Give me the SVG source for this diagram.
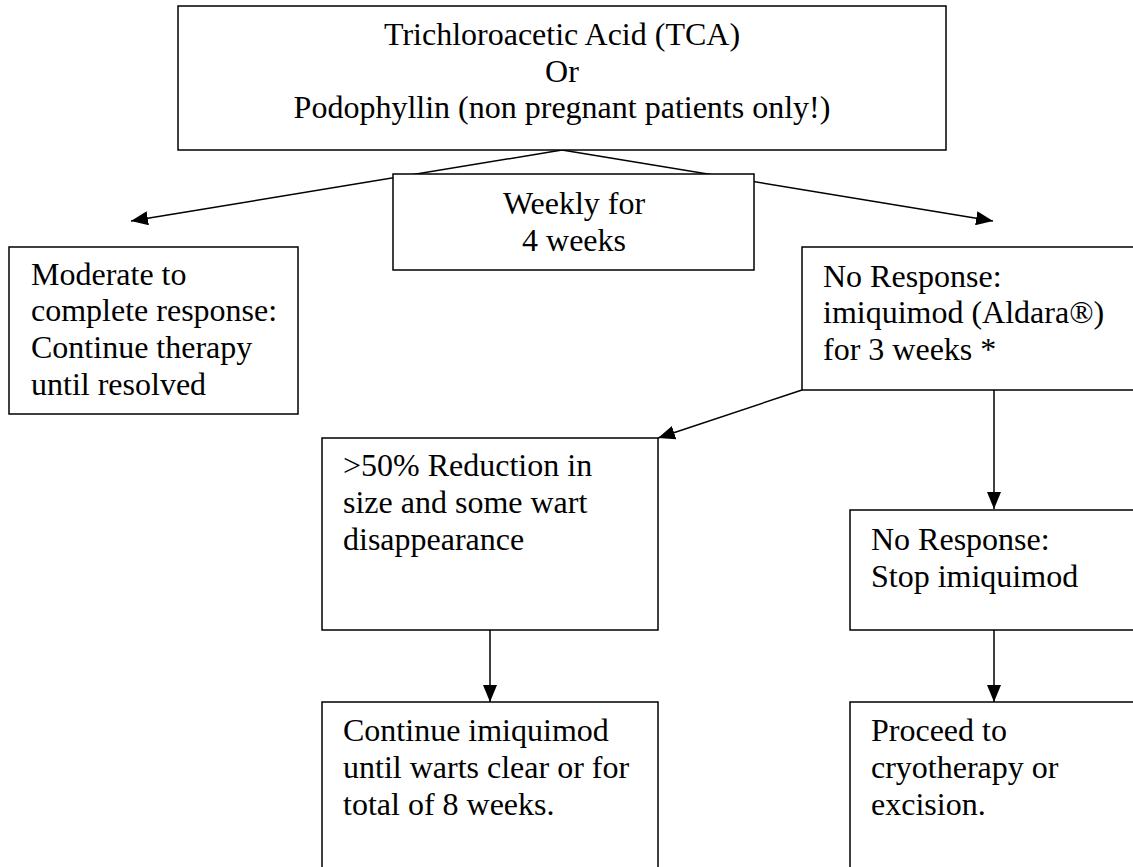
<svg xmlns="http://www.w3.org/2000/svg" width="1133" height="867" viewBox="0 0 1133 867">
<style>
.box{fill:#fff;stroke:#000;stroke-width:1.5}
.t{font-family:"Liberation Serif","Times New Roman",serif;font-size:32px;fill:#000}
.c{text-anchor:middle}
.ln{stroke:#000;stroke-width:1.5;fill:none}
</style>
<defs>
<marker id="ah" markerUnits="userSpaceOnUse" markerWidth="18" markerHeight="14" viewBox="0 0 18 14" refX="17" refY="7" orient="auto">
<path d="M0,0 L17,7 L0,14 z" fill="#000"/>
</marker>
</defs>
<rect width="1133" height="867" fill="#fff"/>
<g id="connectors">
<line class="ln" x1="562" y1="150" x2="131" y2="221" marker-end="url(#ah)"/>
<line class="ln" x1="562" y1="150" x2="993" y2="221" marker-end="url(#ah)"/>
<line class="ln" x1="802" y1="390" x2="658" y2="438" marker-end="url(#ah)"/>
<line class="ln" x1="994" y1="390" x2="994" y2="509" marker-end="url(#ah)"/>
<line class="ln" x1="490" y1="630" x2="490" y2="702" marker-end="url(#ah)"/>
<line class="ln" x1="994" y1="630" x2="994" y2="702" marker-end="url(#ah)"/>
</g>
<g id="top">
<rect class="box" x="178" y="6" width="768" height="144"/>
<text class="t c" x="562" y="45">Trichloroacetic Acid (TCA)</text>
<text class="t c" x="562" y="82">Or</text>
<text class="t c" x="562" y="118">Podophyllin (non pregnant patients only!)</text>
</g>
<g id="weekly">
<rect class="box" x="393" y="174" width="361" height="96"/>
<text class="t c" x="574" y="214">Weekly for</text>
<text class="t c" x="574" y="251">4 weeks</text>
</g>
<g id="moderate">
<rect class="box" x="9" y="247" width="289" height="167"/>
<text class="t" x="31" y="285">Moderate to</text>
<text class="t" x="31" y="321">complete response:</text>
<text class="t" x="31" y="358">Continue therapy</text>
<text class="t" x="31" y="395">until resolved</text>
</g>
<g id="noresponse">
<rect class="box" x="802" y="247" width="340" height="143"/>
<text class="t" x="823" y="287">No Response:</text>
<text class="t" x="823" y="323">imiquimod (Aldara®)</text>
<text class="t" x="823" y="360">for 3 weeks *</text>
</g>
<g id="reduction">
<rect class="box" x="322" y="438" width="336" height="192"/>
<text class="t" x="343" y="476">&gt;50% Reduction in</text>
<text class="t" x="343" y="513">size and some wart</text>
<text class="t" x="343" y="550">disappearance</text>
</g>
<g id="stop">
<rect class="box" x="850" y="510" width="292" height="120"/>
<text class="t" x="871" y="550">No Response:</text>
<text class="t" x="871" y="587">Stop imiquimod</text>
</g>
<g id="continue">
<rect class="box" x="322" y="702" width="336" height="175"/>
<text class="t" x="343" y="741">Continue imiquimod</text>
<text class="t" x="343" y="778">until warts clear or for</text>
<text class="t" x="343" y="815">total of 8 weeks.</text>
</g>
<g id="proceed">
<rect class="box" x="850" y="702" width="292" height="175"/>
<text class="t" x="871" y="741">Proceed to</text>
<text class="t" x="871" y="778">cryotherapy or</text>
<text class="t" x="871" y="815">excision.</text>
</g>
</svg>
